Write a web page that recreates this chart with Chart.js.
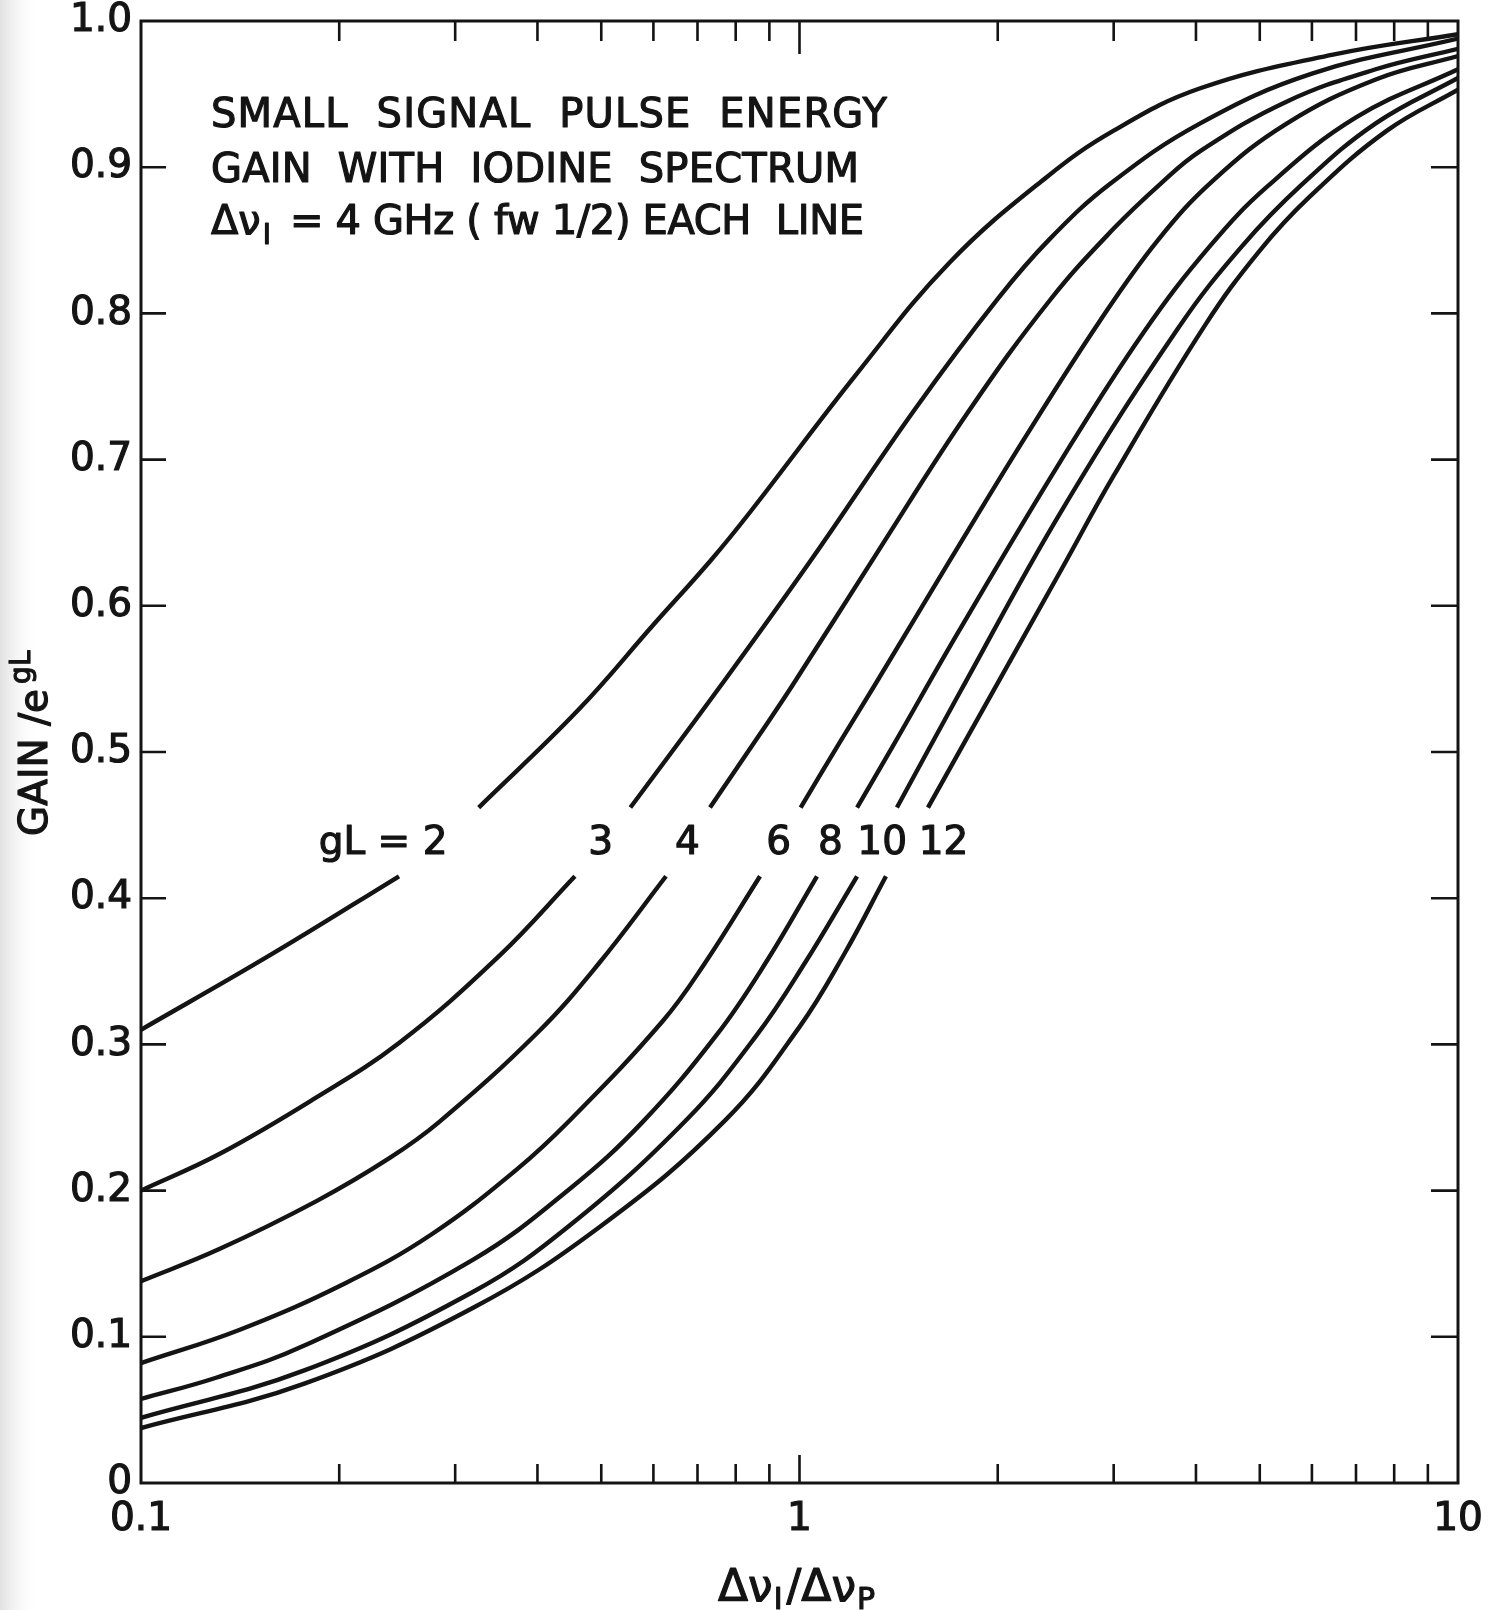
<!DOCTYPE html>
<html>
<head>
<meta charset="utf-8">
<script src="https://cdn.jsdelivr.net/npm/chart.js@4.4.1/dist/chart.umd.min.js"></script>
<style>
  html, body { margin: 0; padding: 0; background: #fff; }
  #wrap { width: 1489px; height: 1610px; }
</style>
</head>
<body>
<div id="wrap"><canvas id="chart" width="1489" height="1610"></canvas></div>
<script>
const ctx = document.getElementById('chart').getContext('2d');
const FONT = '"DejaVu Sans", sans-serif';
const INK = '#141414';

// curve labels (gL) and where they sit
const curveLabels = ['gL = 2', '3', '4', '6', '8', '10', '12'];
const labelX = [0.2796, 0.499, 0.676, 0.930, 1.114, 1.335, 1.655];
const labelY = 0.437;

// curves, null y = break left for the labels
const x_gL2 = [0.1, 0.157, 0.2465, 0.285, 0.3257, 0.462, 0.6, 0.733, 0.841, 1.223, 1.692, 2.37, 3.0, 4.06, 6.46, 10];
const y_gL2 = [0.310, 0.361, 0.415, null, 0.462, 0.529, 0.587, 0.631, 0.664, 0.759, 0.835, 0.893, 0.925, 0.954, 0.977, 0.991];

const x_gL3 = [0.1, 0.1315, 0.182, 0.2465, 0.349, 0.456, 0.5, 0.5536, 0.761, 1.04, 1.5, 2.0, 2.4, 2.97, 4.06, 6.0, 10];
const y_gL3 = [0.200, 0.225, 0.262, 0.301, 0.360, 0.415, null, 0.462, 0.546, 0.631, 0.735, 0.810, 0.851, 0.889, 0.930, 0.964, 0.988];

const x_gL4 = [0.1, 0.1315, 0.185, 0.238, 0.2838, 0.4, 0.495, 0.627, 0.68, 0.7313, 0.873, 0.977, 1.302, 1.8, 2.4, 3.0, 3.54, 4.06, 5.5, 7.5, 10];
const y_gL4 = [0.138, 0.160, 0.193, 0.222, 0.247, 0.308, 0.355, 0.415, null, 0.462, 0.513, 0.546, 0.634, 0.732, 0.809, 0.858, 0.889, 0.911, 0.945, 0.967, 0.981];

const x_gL6 = [0.1, 0.1416, 0.205, 0.276, 0.371, 0.45, 0.62, 0.717, 0.871, 0.94, 1.004, 1.156, 1.302, 1.692, 2.2, 2.86, 3.5, 4.25, 5.5, 7.5, 10];
const y_gL6 = [0.082, 0.105, 0.137, 0.170, 0.214, 0.249, 0.316, 0.355, 0.415, null, 0.462, 0.508, 0.546, 0.631, 0.715, 0.795, 0.850, 0.891, 0.930, 0.960, 0.976];

const x_gL8 = [0.1, 0.13, 0.177, 0.32, 0.45, 0.578, 0.75, 0.889, 1.063, 1.14, 1.223, 1.386, 1.753, 2.5, 3.33, 4.2, 5.14, 7.0, 10];
const y_gL8 = [0.0575, 0.072, 0.094, 0.153, 0.202, 0.247, 0.307, 0.356, 0.415, null, 0.462, 0.504, 0.584, 0.700, 0.787, 0.846, 0.887, 0.934, 0.967];

const x_gL10 = [0.1, 0.177, 0.32, 0.45, 0.672, 0.86, 1.02, 1.223, 1.31, 1.406, 1.753, 2.5, 3.76, 4.7, 5.79, 7.5, 10];
const y_gL10 = [0.0446, 0.077, 0.131, 0.177, 0.248, 0.306, 0.356, 0.415, null, 0.462, 0.541, 0.665, 0.790, 0.846, 0.888, 0.930, 0.961];

const x_gL12 = [0.1, 0.177, 0.32, 0.5, 0.771, 1.0, 1.17, 1.353, 1.46, 1.567, 1.757, 2.5, 3.0, 4.13, 5.0, 5.96, 7.8, 10];
const y_gL12 = [0.0376, 0.068, 0.120, 0.176, 0.248, 0.312, 0.362, 0.415, null, 0.462, 0.502, 0.625, 0.689, 0.792, 0.843, 0.880, 0.925, 0.953];

// axis ticks
const xLabelTicks = [0.1, 1, 10];
const xMinorTicks = [0.2, 0.3, 0.4, 0.5, 0.6, 0.7, 0.8, 0.9, 2, 3, 4, 5, 6, 7, 8, 9];
const yInnerTicks = [0.1, 0.2, 0.3, 0.4, 0.5, 0.6, 0.7, 0.8, 0.9];

const curves = [
  [x_gL2, y_gL2], [x_gL3, y_gL3], [x_gL4, y_gL4], [x_gL6, y_gL6],
  [x_gL8, y_gL8], [x_gL10, y_gL10], [x_gL12, y_gL12]
];

function toPoints(xs, ys) {
  return xs.map((x, i) => ({ x: x, y: ys[i] }));
}

// filled + thin stroke, the old lettering is heavier than DejaVu Book
function ink(c, text, x, y) {
  c.fillText(text, x, y);
  c.strokeText(text, x, y);
}

// spread a string over a given width (the original lettering is wide)
function fitText(c, text, x, y, width) {
  c.letterSpacing = '0px';
  const n = Array.from(text).length;
  const w = c.measureText(text).width;
  c.letterSpacing = ((width - w) / Math.max(n - 1, 1)) + 'px';
  ink(c, text, x, y);
  c.letterSpacing = '0px';
}

const paper = {
  id: 'paper',
  beforeDraw(chart) {
    const c = chart.ctx;
    c.save();
    c.fillStyle = '#fff';
    c.fillRect(0, 0, chart.width, chart.height);
    const g = c.createLinearGradient(0, 0, 40, 0);
    g.addColorStop(0, 'rgba(200,200,200,0.55)');
    g.addColorStop(1, 'rgba(255,255,255,0)');
    c.fillStyle = g;
    c.fillRect(0, 0, 40, chart.height);
    c.restore();
  }
};

const frame = {
  id: 'frame',
  afterDraw(chart) {
    const c = chart.ctx;
    const a = chart.chartArea;
    const xs = chart.scales.x;
    const ys = chart.scales.y;
    c.save();
    c.strokeStyle = INK;
    c.fillStyle = INK;

    // box
    c.lineWidth = 3;
    c.strokeRect(a.left, a.top, a.right - a.left, a.bottom - a.top);

    // inward ticks
    c.lineWidth = 2.6;
    c.beginPath();
    yInnerTicks.forEach(v => {
      const py = ys.getPixelForValue(v);
      c.moveTo(a.left, py); c.lineTo(a.left + 25, py);
      c.moveTo(a.right, py); c.lineTo(a.right - 27, py);
    });
    xMinorTicks.forEach(v => {
      const px = xs.getPixelForValue(v);
      c.moveTo(px, a.bottom); c.lineTo(px, a.bottom - 19);
      c.moveTo(px, a.top); c.lineTo(px, a.top + 20);
    });
    const p1 = xs.getPixelForValue(1);
    c.moveTo(p1, a.bottom); c.lineTo(p1, a.bottom - 28);
    c.moveTo(p1, a.top); c.lineTo(p1, a.top + 33);
    c.stroke();

    c.lineWidth = 1.2;
    c.lineJoin = 'round';

    // heading
    c.textBaseline = 'alphabetic';
    c.textAlign = 'left';
    c.font = '40px ' + FONT;
    fitText(c, 'SMALL  SIGNAL  PULSE  ENERGY', 211, 127, 676);
    fitText(c, 'GAIN  WITH  IODINE  SPECTRUM', 211, 182, 648);
    ink(c, '\u0394\u03bd', 211, 234);
    const dw = c.measureText('\u0394\u03bd').width;
    c.font = '28px ' + FONT;
    ink(c, 'I', 211 + dw + 2, 244);
    c.font = '40px ' + FONT;
    fitText(c, '= 4 GHz ( fw 1/2) EACH  LINE', 290, 234, 574);

    // curve labels
    c.font = '39px ' + FONT;
    c.textAlign = 'center';
    c.textBaseline = 'middle';
    curveLabels.forEach((t, i) => {
      const px = xs.getPixelForValue(labelX[i]);
      const py = ys.getPixelForValue(labelY);
      if (i === 0) {
        c.textAlign = 'right';
        const w = c.measureText('2').width;
        ink(c, t, px + w / 2, py);
        c.textAlign = 'center';
      } else {
        ink(c, t, px, py);
      }
    });

    // x title: Δν_I / Δν_P
    c.textAlign = 'left';
    c.textBaseline = 'alphabetic';
    let x = 718;
    const by = 1601;
    c.font = '44px ' + FONT;
    ink(c, '\u0394\u03bd', x, by); x += c.measureText('\u0394\u03bd').width + 1;
    c.font = '30px ' + FONT;
    ink(c, 'I', x, by + 8); x += c.measureText('I').width + 4;
    c.font = '44px ' + FONT;
    ink(c, '/\u0394\u03bd', x, by); x += c.measureText('/\u0394\u03bd').width + 1;
    c.font = '30px ' + FONT;
    ink(c, 'P', x, by + 8);

    // y title: GAIN / e^gL (rotated)
    c.save();
    c.translate(47, 836);
    c.rotate(-Math.PI / 2);
    c.font = '39px ' + FONT;
    ink(c, 'GAIN /e', 0, 0);
    const gw = c.measureText('GAIN /e').width;
    c.font = '28px ' + FONT;
    ink(c, 'gL', gw + 5, -17);
    c.restore();

    c.restore();
  }
};

const chart = new Chart(ctx, {
  type: 'line',
  data: {
    datasets: curves.map(cv => ({
      data: toPoints(cv[0], cv[1]),
      borderColor: INK,
      borderWidth: 4.4,
      pointRadius: 0,
      fill: false,
      spanGaps: false,
      tension: 0.4
    }))
  },
  options: {
    responsive: false,
    animation: false,
    layout: { padding: { left: 0, top: 21, right: 31, bottom: 0 } },
    plugins: { legend: { display: false }, tooltip: { enabled: false } },
    scales: {
      x: {
        type: 'logarithmic',
        min: 0.1,
        max: 10,
        border: { display: false },
        grid: { display: false, drawTicks: false },
        afterBuildTicks: s => { s.ticks = xLabelTicks.map(v => ({ value: v })); },
        afterFit: s => { s.height = 127; s.paddingLeft = 0; s.paddingRight = 0; },
        ticks: {
          autoSkip: false,
          maxRotation: 0,
          padding: 13,
          color: INK,
          textStrokeColor: INK,
          textStrokeWidth: 1.2,
          font: { family: FONT, size: 39 },
          callback: v => String(v)
        }
      },
      y: {
        min: 0,
        max: 1,
        border: { display: false },
        grid: { display: false, drawTicks: false },
        afterFit: s => { s.width = 141; s.paddingTop = 0; s.paddingBottom = 0; },
        ticks: {
          stepSize: 0.1,
          padding: 9,
          color: INK,
          textStrokeColor: INK,
          textStrokeWidth: 1.2,
          font: { family: FONT, size: 39 },
          callback: v => (v === 0 ? '0' : Number(v).toFixed(1))
        }
      }
    }
  },
  plugins: [paper, frame]
});
</script>
</body>
</html>
